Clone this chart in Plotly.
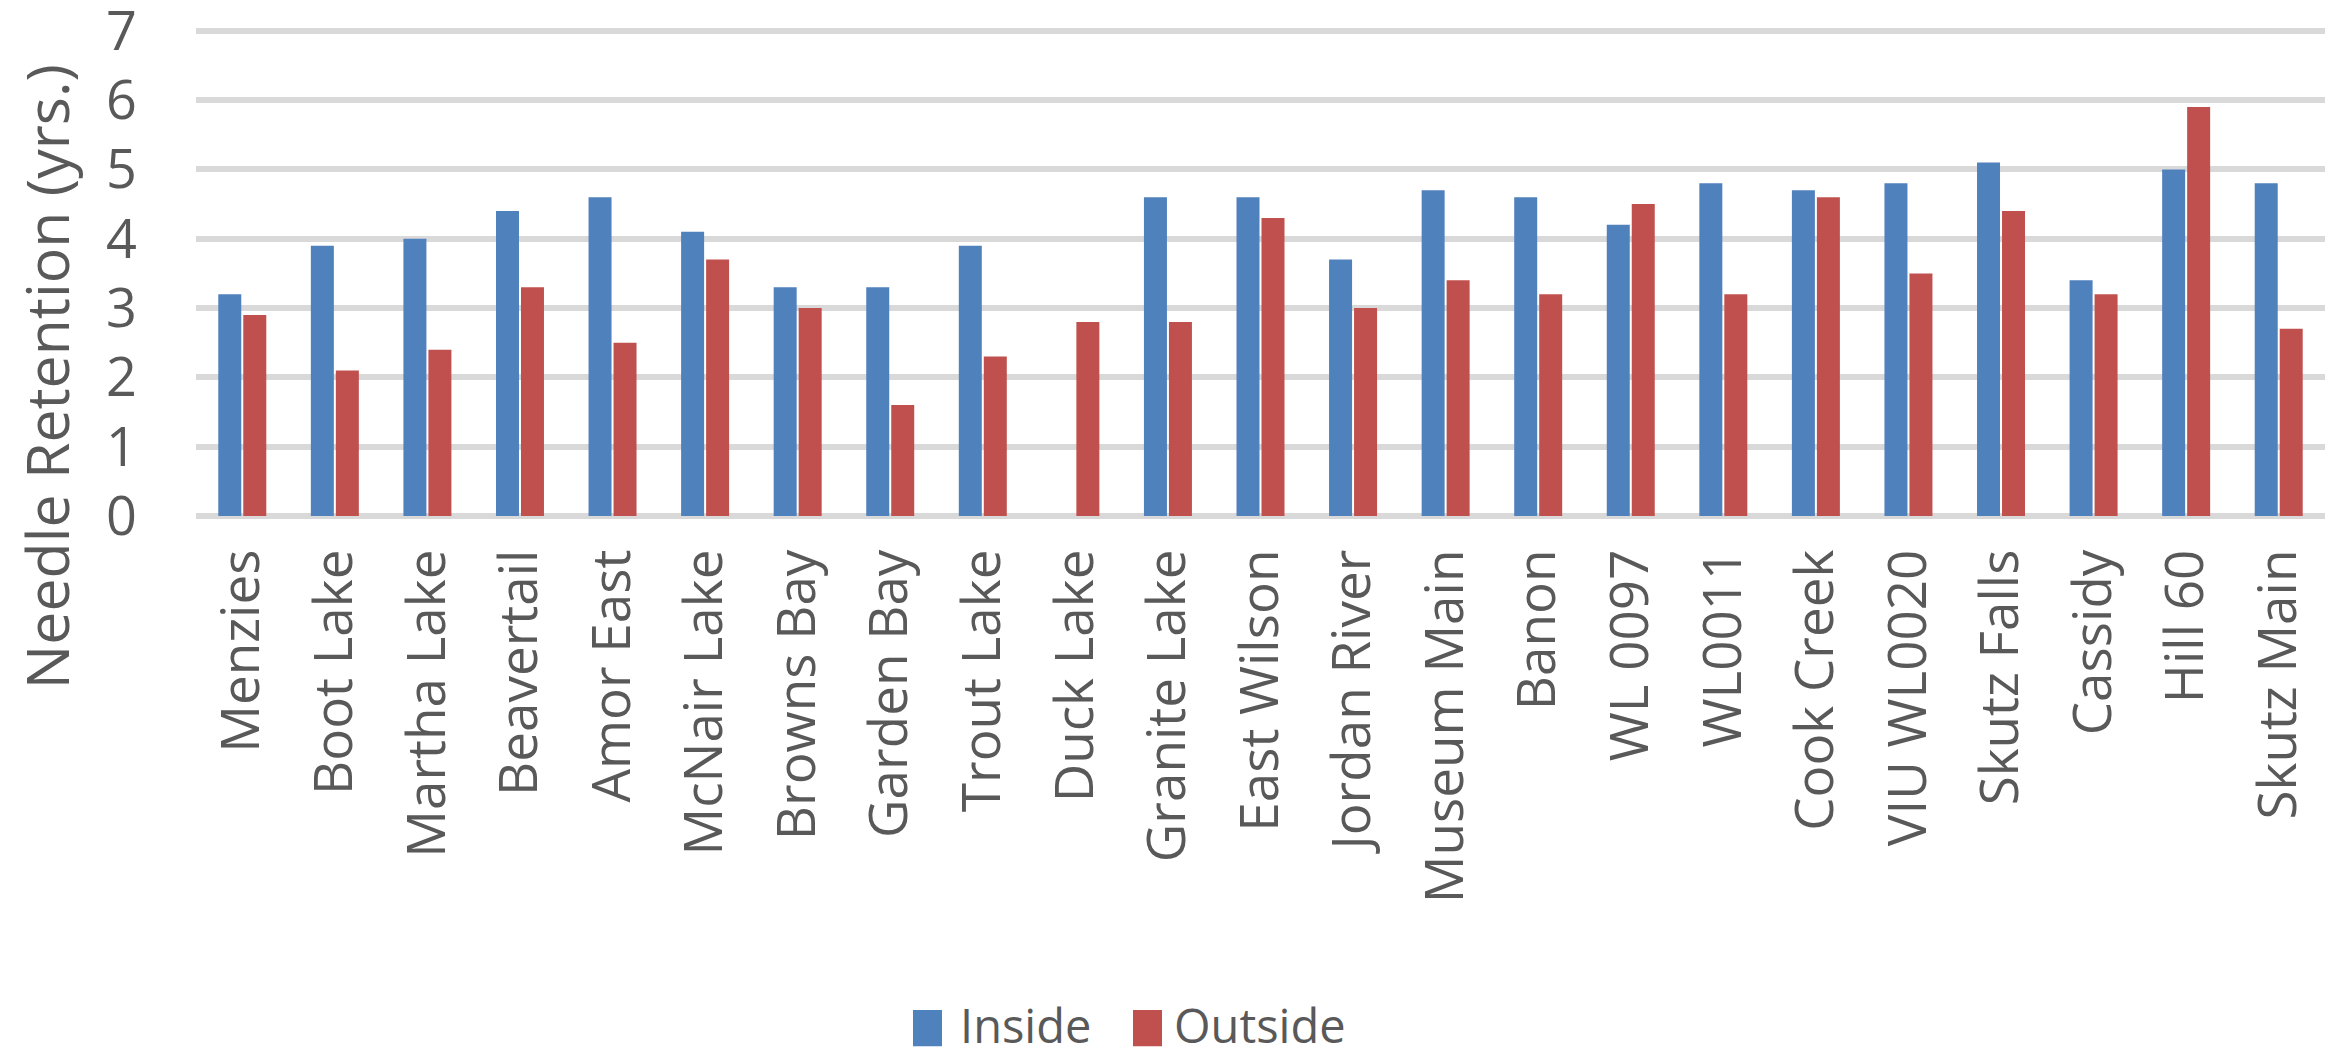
import plotly.graph_objects as go

categories = ["Menzies", "Boot Lake", "Martha Lake", "Beavertail", "Amor East", "McNair Lake",
              "Browns Bay", "Garden Bay", "Trout Lake", "Duck Lake", "Granite Lake", "East Wilson",
              "Jordan River", "Museum Main", "Banon", "WL 0097", "WL0011", "Cook Creek",
              "VIU WL0020", "Skutz Falls", "Cassidy", "Hill 60", "Skutz Main"]
inside = [3.2, 3.9, 4.0, 4.4, 4.6, 4.1, 3.3, 3.3, 3.9, None, 4.6, 4.6,
          3.7, 4.7, 4.6, 4.2, 4.8, 4.7, 4.8, 5.1, 3.4, 5.0, 4.8]
outside = [2.9, 2.1, 2.4, 3.3, 2.5, 3.7, 3.0, 1.6, 2.3, 2.8, 2.8, 4.3,
           3.0, 3.4, 3.2, 4.5, 3.2, 4.6, 3.5, 4.4, 3.2, 5.9, 2.7]
series_names = ["Inside", "Outside"]
series_colors = ["#4F81BD", "#C0504D"]
y_ticks = [0, 1, 2, 3, 4, 5, 6, 7]
y_title = "Needle Retention (yrs.)"

W, H = 2336, 1048
L, R, T, B = 196, 2325, 31, 516
FONT = "Open Sans"
TXT = "#595959"

def px2x(px):
    return (px - L) / (R - L)

def px2y(py):
    return (B - py) / (B - T)

fig = go.Figure()
for name, vals, col in zip(series_names, [inside, outside], series_colors):
    fig.add_trace(go.Bar(x=categories, y=vals, name=name, marker=dict(color=col, line=dict(width=0)),
                         showlegend=False))

fig.update_layout(
    width=W, height=H,
    margin=dict(l=L, r=W - R, t=T - 3, b=H - B, pad=0, autoexpand=False),
    paper_bgcolor="white", plot_bgcolor="white",
    barmode="group", bargap=0.46, bargroupgap=0.08,
    font=dict(family=FONT, color=TXT),
)
fig.update_xaxes(
    type="category", tickangle=-90, tickfont=dict(size=53, color=TXT, family=FONT),
    showgrid=False, showline=False, ticks="", ticklabelstandoff=22, automargin=False,
    range=[-0.5, len(categories) - 0.5],
)
fig.update_yaxes(
    range=[0, 7.04], tickvals=y_ticks, ticktext=[str(v) for v in y_ticks],
    tickfont=dict(size=54, color=TXT, family=FONT), ticklabeloverflow="allow", automargin=False,
    showgrid=True, gridcolor="#D9D9D9", gridwidth=6,
    zeroline=True, zerolinecolor="#D9D9D9", zerolinewidth=6,
    showline=False, ticks="", ticklabelstandoff=58,
)

# y-axis title, centered like the original
fig.add_annotation(
    text=y_title, xref="paper", yref="paper", x=px2x(46), y=px2y(378),
    textangle=-90, showarrow=False, xanchor="center", yanchor="middle",
    font=dict(size=59, color=TXT, family=FONT),
)

# legend (swatches + labels)
sw_left = [913, 1133]
tx_left = [958, 1172]
for name, col, sx, tx in zip(series_names, series_colors, sw_left, tx_left):
    fig.add_shape(type="rect", xref="paper", yref="paper",
                  x0=px2x(sx), x1=px2x(sx + 29), y0=px2y(1043), y1=px2y(1007),
                  fillcolor=col, line=dict(width=0))
    fig.add_annotation(text=name, xref="paper", yref="paper", x=px2x(tx), y=px2y(1022),
                       xanchor="left", yanchor="middle", showarrow=False,
                       font=dict(size=47, color=TXT, family=FONT))

fig.write_html("out.html")
